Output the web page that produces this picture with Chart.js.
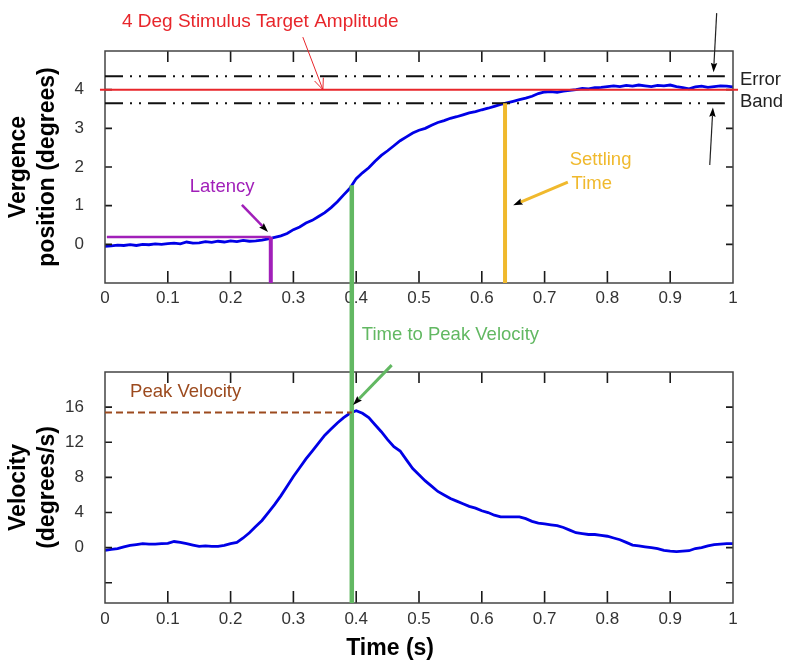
<!DOCTYPE html>
<html>
<head>
<meta charset="utf-8">
<title>Vergence step response</title>
<script src="https://cdn.jsdelivr.net/npm/chart.js@4.4.0/dist/chart.umd.min.js"></script>
<style>
  html, body { margin: 0; padding: 0; background: #fff; }
  #wrap { position: relative; width: 800px; height: 671px; }
  #wrap canvas { position: absolute; left: 0; }
  #posChart { top: 0; }
  #velChart { top: 320px; }
  #notes { top: 0; pointer-events: none; }
</style>
</head>
<body>
<div id="wrap">
  <canvas id="posChart" width="800" height="320"></canvas>
  <canvas id="velChart" width="800" height="351"></canvas>
  <canvas id="notes" width="800" height="671"></canvas>
</div>
<script>
// time axis (s)
const timeS = [
  0.00, 0.01, 0.02, 0.03, 0.04, 0.05, 0.06, 0.07, 0.08, 0.09,
  0.10, 0.11, 0.12, 0.13, 0.14, 0.15, 0.16, 0.17, 0.18, 0.19,
  0.20, 0.21, 0.22, 0.23, 0.24, 0.25, 0.26, 0.27, 0.28, 0.29,
  0.30, 0.31, 0.32, 0.33, 0.34, 0.35, 0.36, 0.37, 0.38, 0.39,
  0.40, 0.41, 0.42, 0.43, 0.44, 0.45, 0.46, 0.47, 0.48, 0.49,
  0.50, 0.51, 0.52, 0.53, 0.54, 0.55, 0.56, 0.57, 0.58, 0.59,
  0.60, 0.61, 0.62, 0.63, 0.64, 0.65, 0.66, 0.67, 0.68, 0.69,
  0.70, 0.71, 0.72, 0.73, 0.74, 0.75, 0.76, 0.77, 0.78, 0.79,
  0.80, 0.81, 0.82, 0.83, 0.84, 0.85, 0.86, 0.87, 0.88, 0.89,
  0.90, 0.91, 0.92, 0.93, 0.94, 0.95, 0.96, 0.97, 0.98, 0.99,
  1.00
];

// vergence position (degrees)
const vergencePos = [
  -0.05, -0.04, -0.02, -0.03, -0.01, -0.03, 0.00, -0.01, 0.01, 0.00,
  0.02, 0.03, 0.01, 0.06, 0.03, 0.04, 0.07, 0.05, 0.08, 0.06,
  0.09, 0.07, 0.10, 0.08, 0.09, 0.11, 0.14, 0.18, 0.22, 0.28,
  0.38, 0.45, 0.55, 0.62, 0.72, 0.82, 0.95, 1.10, 1.28, 1.45,
  1.70, 1.85, 1.98, 2.15, 2.30, 2.42, 2.55, 2.68, 2.78, 2.88,
  2.95, 3.00, 3.08, 3.15, 3.20, 3.26, 3.30, 3.35, 3.40, 3.43,
  3.48, 3.52, 3.57, 3.62, 3.66, 3.70, 3.74, 3.78, 3.83, 3.90,
  3.94, 3.95, 3.93, 3.96, 3.98, 4.00, 4.03, 4.02, 4.05, 4.06,
  4.08, 4.10, 4.08, 4.11, 4.09, 4.12, 4.10, 4.08, 4.11, 4.10,
  4.12, 4.08, 4.05, 4.02, 4.07, 4.09, 4.06, 4.08, 4.10, 4.09,
  4.07
];

// vergence velocity (degrees/s)
const vergenceVel = [
  -0.3, -0.2, -0.1, 0.1, 0.25, 0.35, 0.45, 0.4, 0.4, 0.45,
  0.5, 0.7, 0.6, 0.45, 0.3, 0.15, 0.2, 0.15, 0.15, 0.25,
  0.45, 0.6, 1.1, 1.7, 2.4, 3.1, 4.0, 4.9, 5.9, 7.0,
  8.1, 9.1, 10.1, 11.0, 11.9, 12.8, 13.5, 14.2, 14.8, 15.3,
  15.6, 15.3, 14.8, 14.0, 13.2, 12.3, 11.5, 11.0, 10.0, 9.0,
  8.3, 7.6, 7.0, 6.4, 6.0, 5.6, 5.3, 5.0, 4.7, 4.5,
  4.2, 4.0, 3.7, 3.5, 3.5, 3.5, 3.5, 3.3, 3.0, 2.8,
  2.7, 2.6, 2.5, 2.3, 2.0, 1.7, 1.6, 1.5, 1.5, 1.4,
  1.3, 1.1, 0.9, 0.6, 0.3, 0.2, 0.1, 0.0, -0.1, -0.3,
  -0.4, -0.45, -0.4, -0.35, -0.1, 0.0, 0.2, 0.35, 0.4, 0.45,
  0.45
];

// tick labels
const timeTicks = [0, 0.1, 0.2, 0.3, 0.4, 0.5, 0.6, 0.7, 0.8, 0.9, 1];
const posTicks = [0, 1, 2, 3, 4];
const velTicks = [0, 4, 8, 12, 16];
const velTickMarks = [-4, 0, 4, 8, 12, 16];

// annotated values
const targetAmp = 4;
const errorBand = [4.35, 3.65];
const latencyT = 0.264;
const latencyPos = 0.19;
const settleT = 0.637;
const peakT = 0.393;
const peakVel = 15.4;

Chart.defaults.font.family = "'Liberation Sans', Arial, sans-serif";

// box frame and inward tick marks, like the original plot
const frameTicks = {
  id: 'frameTicks',
  afterDraw(chart, args, opts) {
    const { ctx, chartArea: a, scales: { x, y } } = chart;
    ctx.save();
    ctx.strokeStyle = '#1a1a1a';
    ctx.lineWidth = 1.6;
    ctx.beginPath();
    timeTicks.slice(1, -1).forEach(v => {
      const px = x.getPixelForValue(v);
      ctx.moveTo(px, a.bottom); ctx.lineTo(px, a.bottom - 12);
      ctx.moveTo(px, a.top); ctx.lineTo(px, a.top + 11);
    });
    opts.yMarks.forEach(v => {
      const py = y.getPixelForValue(v);
      ctx.moveTo(a.left, py); ctx.lineTo(a.left + 7, py);
      ctx.moveTo(a.right, py); ctx.lineTo(a.right - 7, py);
    });
    ctx.stroke();
    ctx.strokeStyle = '#444';
    ctx.lineWidth = 1.5;
    ctx.strokeRect(a.left, a.top, a.width, a.height);
    ctx.restore();
  }
};

function xScale(padding, extra) {
  return Object.assign({
    type: 'linear', min: 0, max: 1,
    grid: { display: false }, border: { display: false },
    ticks: { stepSize: 0.1, padding: padding, color: '#333', font: { size: 17 }, maxRotation: 0, autoSkip: false,
             callback: v => String(Math.round(v * 10) / 10) }
  }, extra);
}

const posChart = new Chart(document.getElementById('posChart'), {
  type: 'line',
  data: {
    datasets: [{
      data: timeS.map((t, i) => ({ x: t, y: vergencePos[i] })),
      borderColor: '#0000e6', borderWidth: 2.8, pointRadius: 0, tension: 0
    }]
  },
  options: {
    responsive: false,
    animation: false,
    layout: { padding: { top: 51, right: 67, bottom: 0, left: 0 } },
    plugins: {
      legend: { display: false },
      tooltip: { enabled: false },
      frameTicks: { yMarks: posTicks }
    },
    scales: {
      x: xScale(-3, { afterFit: s => { s.height = 37; } }),
      y: {
        min: -1, max: 5,
        grid: { display: false }, border: { display: false },
        ticks: { stepSize: 1, padding: 13, color: '#333', font: { size: 17 },
                 callback: v => posTicks.includes(v) ? v : '' },
        title: { display: true, text: ['Vergence', 'position (degrees)'], color: '#000',
                 font: { size: 23, weight: 'bold', lineHeight: 1.28 }, padding: { top: 3.5 } },
        afterFit: s => { s.width = 105; }
      }
    }
  },
  plugins: [frameTicks]
});

const velChart = new Chart(document.getElementById('velChart'), {
  type: 'line',
  data: {
    datasets: [{
      data: timeS.map((t, i) => ({ x: t, y: vergenceVel[i] })),
      borderColor: '#0000e6', borderWidth: 2.8, pointRadius: 0, tension: 0
    }]
  },
  options: {
    responsive: false,
    animation: false,
    layout: { padding: { top: 52, right: 67, bottom: 0, left: 0 } },
    plugins: {
      legend: { display: false },
      tooltip: { enabled: false },
      frameTicks: { yMarks: velTickMarks }
    },
    scales: {
      x: xScale(-2, { afterFit: s => { s.height = 68; } }),
      y: {
        min: -6.3, max: 20,
        grid: { display: false }, border: { display: false },
        ticks: { stepSize: 4, padding: 13, color: '#333', font: { size: 17 },
                 callback: v => velTicks.includes(v) ? v : '' },
        title: { display: true, text: ['Velocity', '(degrees/s)'], color: '#000',
                 font: { size: 23, weight: 'bold', lineHeight: 1.28 }, padding: { top: 3.5 } },
        afterFit: s => { s.width = 105; }
      }
    }
  },
  plugins: [frameTicks]
});

// annotations go on a transparent canvas over both charts
function drawNotes() {
  const ctx = document.getElementById('notes').getContext('2d');
  const velTop = document.getElementById('velChart').offsetTop;
  const P = (t, v) => [posChart.scales.x.getPixelForValue(t), posChart.scales.y.getPixelForValue(v)];
  const V = (t, v) => [velChart.scales.x.getPixelForValue(t), velChart.scales.y.getPixelForValue(v) + velTop];

  function seg(a, b, color, width, dash) {
    ctx.save();
    ctx.strokeStyle = color;
    ctx.lineWidth = width;
    ctx.setLineDash(dash || []);
    ctx.beginPath();
    ctx.moveTo(a[0], a[1]);
    ctx.lineTo(b[0], b[1]);
    ctx.stroke();
    ctx.restore();
  }

  function arrow(from, to, color, width, openHead) {
    const ang = Math.atan2(to[1] - from[1], to[0] - from[0]);
    const len = openHead ? 12 : 10;
    const half = openHead ? 0.4 : 0.33;
    const base = [to[0] - Math.cos(ang) * len * 0.8, to[1] - Math.sin(ang) * len * 0.8];
    seg(from, openHead ? to : base, color, width);
    const l = [to[0] - len * Math.cos(ang - half), to[1] - len * Math.sin(ang - half)];
    const r = [to[0] - len * Math.cos(ang + half), to[1] - len * Math.sin(ang + half)];
    ctx.save();
    if (openHead) {
      ctx.strokeStyle = color;
      ctx.lineWidth = 1;
      ctx.beginPath();
      ctx.moveTo(l[0], l[1]); ctx.lineTo(to[0], to[1]); ctx.lineTo(r[0], r[1]);
      ctx.stroke();
    } else {
      ctx.fillStyle = '#000';
      ctx.beginPath();
      ctx.moveTo(to[0], to[1]); ctx.lineTo(l[0], l[1]); ctx.lineTo(base[0], base[1]); ctx.lineTo(r[0], r[1]);
      ctx.closePath();
      ctx.fill();
    }
    ctx.restore();
  }

  function label(text, at, color, font, align) {
    ctx.save();
    ctx.font = font || "18.5px 'Liberation Sans', Arial, sans-serif";
    ctx.fillStyle = color;
    ctx.textAlign = align || 'left';
    ctx.textBaseline = 'alphabetic';
    ctx.fillText(text, at[0], at[1]);
    ctx.restore();
  }

  const red = '#e8262b', purple = '#a11fb9', gold = '#f0b92d', green = '#62b862', brown = '#9c4a1e';

  // error band and target amplitude
  errorBand.forEach(v => seg(P(0, v), P(0.987, v), '#111', 2, [18, 7, 2, 7, 2, 7]));
  seg(P(-0.008, targetAmp), P(1.008, targetAmp), red, 2);

  // latency
  seg(P(0.003, latencyPos), P(latencyT, latencyPos), purple, 2.5);
  seg(P(latencyT, latencyPos), P(latencyT, -1), purple, 4);

  // settling time
  seg(P(settleT, errorBand[1]), P(settleT, -1), gold, 4);

  // time to peak velocity, crossing both panels
  const i = timeS.findIndex(t => t > peakT);
  const f = (peakT - timeS[i - 1]) / (timeS[i] - timeS[i - 1]);
  const posAtPeak = vergencePos[i - 1] + f * (vergencePos[i] - vergencePos[i - 1]);
  seg(P(peakT, posAtPeak), V(peakT, -6.3), green, 4.5);

  // peak velocity
  seg(V(0, peakVel), V(peakT, peakVel), brown, 2, [7, 4]);

  // arrows
  arrow(P(0.315, 5.36), P(0.347, targetAmp), red, 1, true);
  arrow(P(0.974, 5.98), P(0.969, 4.45), '#222', 1.2);
  arrow(P(0.963, 2.05), P(0.968, 3.54), '#222', 1.2);
  arrow(P(0.218, 1.02), P(0.2596, 0.32), purple, 2.5);
  arrow(P(0.737, 1.61), P(0.650, 1.01), gold, 3);
  arrow(V(0.4565, 20.78), V(0.395, 16.25), green, 3);

  // texts
  label('4 Deg Stimulus Target Amplitude', P(0.027, 5.62), red, "19px 'Liberation Sans', Arial, sans-serif");
  label('Error', P(1.011, 4.12), '#222');
  label('Band', P(1.011, 3.55), '#222');
  label('Latency', P(0.135, 1.36), purple);
  label('Settling', P(0.740, 2.05), gold);
  label('Time', P(0.743, 1.43), gold);
  label('Time to Peak Velocity', V(0.409, 23.65), green);
  label('Peak Velocity', V(0.04, 17.1), brown);

  // x axis title of the lower panel, sitting a little left of centre as in the original
  label('Time (s)', V(0.454, -12.2), '#000', "bold 23px 'Liberation Sans', Arial, sans-serif", 'center');
}

drawNotes();
</script>
</body>
</html>
